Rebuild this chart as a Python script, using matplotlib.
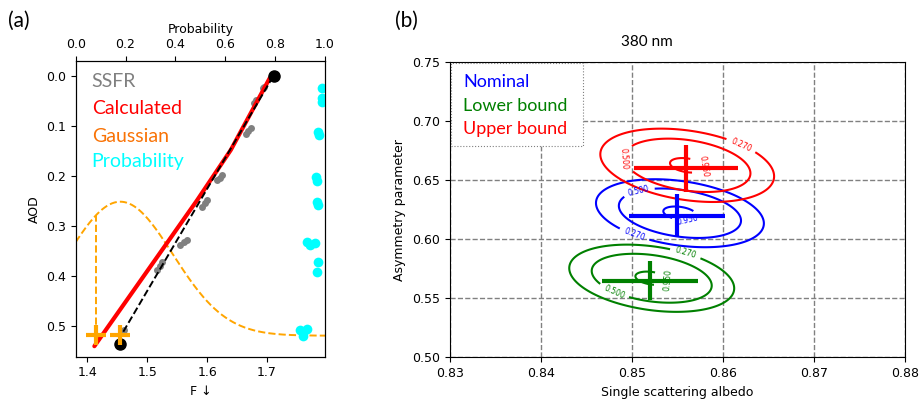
import matplotlib.pyplot as plt
import numpy as np
from matplotlib.patches import Rectangle

# ---- panel (a): downwelling flux vs AOD ----
ssfr_f = [1.6926, 1.6953, 1.6814, 1.6785, 1.6730, 1.6690, 1.6646, 1.6255, 1.6210,
          1.6170, 1.6000, 1.5960, 1.5920, 1.5670, 1.5610, 1.5555, 1.5248, 1.5206,
          1.5164, 1.4604]
ssfr_aod = [0.0252, 0.0220, 0.0486, 0.0552, 0.1050, 0.1100, 0.1166, 0.1986, 0.2040,
            0.2090, 0.2486, 0.2550, 0.2620, 0.3286, 0.3330, 0.3386, 0.3720, 0.3800,
            0.3886, 0.5086]

calc_f = [1.4117, 1.5836, 1.6396, 1.7050]
calc_aod = [0.541, 0.2486, 0.1486, 0.004]

fit_f = [1.460, 1.711]
fit_aod = [0.512, 0.0]

end_f = [1.712, 1.455]
end_aod = [0.0, 0.537]

cross_f = [1.415, 1.4537]
cross_aod = [0.519, 0.519]

prob = [0.989, 0.989, 0.986, 0.973, 0.976, 0.964, 0.968, 0.967, 0.972,
        0.927, 0.940, 0.960, 0.973, 0.967, 0.900, 0.913, 0.927, 0.910]
prob_aod = [0.025, 0.052, 0.045, 0.112, 0.118, 0.202, 0.210, 0.252, 0.258,
            0.332, 0.338, 0.335, 0.372, 0.392, 0.509, 0.515, 0.507, 0.520]

# Gaussian drawn hanging from the AOD baseline
gauss_mu, gauss_sigma, gauss_amp, gauss_base = 1.455, 0.088, 0.268, 0.52

# ---- panel (b): retrieval likelihood at 380 nm ----
cases = ['Nominal', 'Lower bound', 'Upper bound']
case_colors = ['blue', 'green', 'red']
ssa_best = [0.855, 0.852, 0.856]
g_best = [0.620, 0.565, 0.660]
ssa_err = [0.0053, 0.0053, 0.0057]
g_err = [0.018, 0.0163, 0.020]
peak_ssa = [0.8553, 0.8522, 0.8561]
peak_g = [0.6221, 0.5670, 0.6627]
sig_ssa = [0.0057, 0.0056, 0.0059]
sig_g = [0.0178, 0.0176, 0.0192]
rho = [-0.30, -0.30, -0.30]
levels = [0.27, 0.50, 0.95]
label_spots = [
    [(0.8502, 0.6020), (0.8508, 0.6409), (0.8562, 0.6147)],
    [(0.8560, 0.5907), (0.8480, 0.5545), (0.8540, 0.5653)],
    [(0.8621, 0.6811), (0.8493, 0.6684), (0.8581, 0.6627)],
]

W, H = 920, 401
fig = plt.figure(figsize=(W / 100, H / 100), dpi=100)
plt.rcParams['font.size'] = 9


def px(x, y):
    return x / W, 1 - y / H


def gauss_curve(f):
    return gauss_base - gauss_amp * np.exp(-(f - gauss_mu) ** 2 / (2 * gauss_sigma ** 2))


# ---------- (a) ----------
ax1 = fig.add_axes([75.7 / W, 1 - 356.7 / H, 249.3 / W, 295.7 / H])
ff = np.linspace(1.3805, 1.797, 400)
ax1.plot(ff, gauss_curve(ff), '--', color='orange', lw=1.4)
ax1.plot([cross_f[0], cross_f[0]], [cross_aod[0], gauss_curve(cross_f[0])],
         '--', color='orange', lw=1.4)
ax1.plot(ssfr_f, ssfr_aod, 'o', color='gray', ms=5, mec='none')
ax1.plot(calc_f, calc_aod, '-', color='red', lw=3, solid_capstyle='round')
ax1.plot(fit_f, fit_aod, '--', color='black', lw=1.4)
ax1.plot(end_f, end_aod, 'o', color='black', ms=8)
ax1.plot(cross_f, cross_aod, '+', color='orange', ms=15, mew=3)
ax1.set_xlim(1.3805, 1.797)
ax1.set_ylim(0.562, -0.0294)
ax1.set_xticks([1.4, 1.5, 1.6, 1.7])
ax1.set_xlabel('F ↓')
ax1.set_ylabel('AOD')

ax1t = ax1.twiny()
ax1t.plot(prob, prob_aod, 'o', color='cyan', ms=7, mec='none')
ax1t.set_xlim(0, 1)
ax1t.set_xlabel('Probability')

legend_a = [('SSFR', 'gray', 87.3), ('Calculated', 'red', 114.3),
            ('Gaussian', '#F97306', 141.7), ('Probability', 'cyan', 166.7)]
for txt, col, yb in legend_a:
    fig.text(*px(91.7, yb), txt, color=col, fontsize=14, family='Lato', va='baseline')

# ---------- (b) ----------
ax2 = fig.add_axes([449.7 / W, 1 - 357.3 / H, 455 / W, 295 / H])
S, G = np.meshgrid(np.linspace(0.83, 0.88, 501), np.linspace(0.5, 0.75, 501))
for i in range(3):
    u = (S - peak_ssa[i]) / sig_ssa[i]
    v = (G - peak_g[i]) / sig_g[i]
    q = (u ** 2 - 2 * rho[i] * u * v + v ** 2) / (1 - rho[i] ** 2)
    z = np.exp(-0.5 * q)
    cs = ax2.contour(S, G, z, levels=levels, colors=case_colors[i], linewidths=1.5)
    ax2.clabel(cs, fmt='%.3f', fontsize=5.5, inline=True, manual=label_spots[i])
    ax2.errorbar(ssa_best[i], g_best[i], xerr=ssa_err[i], yerr=g_err[i], fmt='none',
                 ecolor=case_colors[i], elinewidth=3, capsize=0, zorder=5)
ax2.set_xlim(0.83, 0.88)
ax2.set_ylim(0.50, 0.75)
ax2.set_xticks([0.83, 0.84, 0.85, 0.86, 0.87, 0.88])
ax2.set_yticks([0.50, 0.55, 0.60, 0.65, 0.70, 0.75])
ax2.grid(True, linestyle='--', color='gray', lw=1)
ax2.set_xlabel('Single scattering albedo')
ax2.set_ylabel('Asymmetry parameter')

x0, y0 = px(451.3, 146)
x1, y1 = px(583.2, 63.3)
fig.add_artist(Rectangle((x0, y0), x1 - x0, y1 - y0, transform=fig.transFigure,
                         facecolor='white', edgecolor='0.5', lw=0.8, ls=':', zorder=6))
for txt, col, yb in zip(cases, case_colors, [87.3, 111.0, 134.3]):
    fig.text(*px(463.3, yb), txt, color=col, fontsize=13, family='Lato', va='baseline', zorder=7)

fig.text(*px(646.9, 46), '380 nm', fontsize=11, family='Lato', ha='center', va='baseline')
fig.text(*px(8.3, 27), '(a)', fontsize=15, family='Lato', va='baseline')
fig.text(*px(395.5, 27), '(b)', fontsize=15, family='Lato', va='baseline')

fig.savefig('out.png', dpi=100)
